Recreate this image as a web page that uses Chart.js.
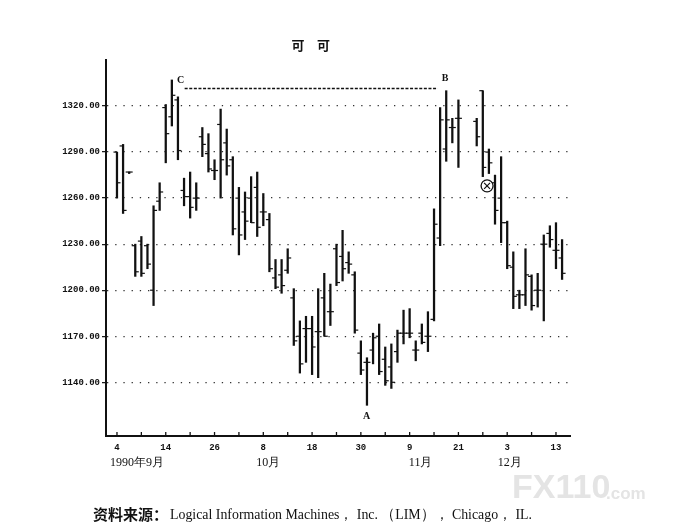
<!DOCTYPE html>
<html>
<head>
<meta charset="utf-8">
<title>可可</title>
<script src="https://cdn.jsdelivr.net/npm/chart.js"></script>
<style>
  body { margin: 0; background: #fff; }
</style>
</head>
<body>
<canvas id="cocoa" width="683" height="532"></canvas>
<script>
// trading day index from 4 Sep 1990 (days 57, 58 have no bar)
var days = [
  0, 1, 2, 3, 4, 5, 6, 7, 8, 9, 10, 11, 12, 13, 14, 15, 16, 17, 18, 19,
  20, 21, 22, 23, 24, 25, 26, 27, 28, 29, 30, 31, 32, 33, 34, 35, 36, 37, 38, 39,
  40, 41, 42, 43, 44, 45, 46, 47, 48, 49, 50, 51, 52, 53, 54, 55, 56,
  59, 60, 61, 62, 63, 64, 65, 66, 67, 68, 69, 70, 71, 72, 73
];
var highs = [
  1290, 1295, 1277, 1230, 1235, 1230, 1255, 1270, 1321, 1337, 1326, 1273, 1277, 1270, 1306, 1302, 1285, 1318, 1305, 1287,
  1267, 1264, 1274, 1277, 1263, 1250, 1220, 1220, 1227, 1201, 1180, 1183, 1183, 1201, 1211, 1204, 1230, 1239, 1225, 1212,
  1167, 1156, 1172, 1178, 1163, 1165, 1174, 1187, 1188, 1167, 1178, 1186, 1253, 1319, 1330, 1312, 1324,
  1312, 1330, 1292, 1275, 1287, 1245, 1225, 1200, 1227, 1210, 1211, 1236, 1242, 1244, 1233
];
var lows = [
  1260, 1250, 1276, 1209, 1209, 1214, 1190, 1252, 1283, 1307, 1285, 1255, 1247, 1252, 1287, 1277, 1272, 1260, 1275, 1236,
  1223, 1233, 1244, 1235, 1242, 1212, 1201, 1198, 1211, 1164, 1146, 1153, 1145, 1143, 1170, 1177, 1203, 1206, 1211, 1172,
  1145, 1125, 1152, 1145, 1138, 1136, 1153, 1165, 1169, 1154, 1165, 1160, 1180, 1229, 1284, 1296, 1280,
  1294, 1274, 1276, 1243, 1231, 1214, 1188, 1188, 1190, 1187, 1189, 1180, 1228, 1214, 1207
];
var opens = [
  1290, 1294, 1277, 1229, 1232, 1229, 1200, 1258, 1319, 1313, 1324, 1265, 1261, 1260, 1300, 1289, 1278, 1308, 1296, 1285,
  1260, 1251, 1260, 1267, 1251, 1246, 1208, 1210, 1213, 1195, 1170, 1175, 1175, 1173, 1195, 1186, 1227, 1222, 1218, 1210,
  1159, 1153, 1161, 1170, 1155, 1150, 1160, 1172, 1172, 1161, 1172, 1170, 1181, 1234, 1292, 1306, 1312,
  1310, 1330, 1290, 1270, 1260, 1244, 1215, 1197, 1197, 1209, 1200, 1230, 1237, 1226, 1221
];
var closes = [
  1270, 1252, 1277, 1212, 1211, 1217, 1252, 1264, 1302, 1327, 1291, 1261, 1254, 1260, 1295, 1279, 1278, 1285, 1281, 1240,
  1236, 1245, 1244, 1241, 1251, 1214, 1202, 1203, 1221, 1167, 1152, 1175, 1163, 1173, 1170, 1186, 1205, 1214, 1217, 1174,
  1148, 1153, 1169, 1147, 1141, 1140, 1172, 1172, 1172, 1161, 1166, 1170, 1243, 1311, 1311, 1306, 1312,
  1300, 1280, 1283, 1252, 1244, 1216, 1196, 1197, 1210, 1190, 1200, 1230, 1233, 1226, 1211
];

var yTicks = [1140, 1170, 1200, 1230, 1260, 1290, 1320];
var xTickDays = [0, 4, 8, 12, 16, 20, 24, 28, 32, 36, 40, 44, 48, 52, 56, 60, 64, 68, 72];
var xLabelDays = [0, 8, 16, 24, 32, 40, 48, 56, 64, 72];
var xLabels = ['4', '14', '26', '8', '18', '30', '9', '21', '3', '13'];
var monthLabels = ['1990年9月', '10月', '11月', '12月'];
var monthDays = [3.3, 24.8, 49.8, 64.4];

// C-B resistance line, A/B/C points and the circled cross
var lineDays = [11.1, 52.6];
var lineLevel = 1331.5;
var pointNames = ['C', 'B', 'A'];
var pointDays = [10.45, 53.8, 40.95];
var pointValues = [1337, 1338, 1118];
var crossDay = 60.7;
var crossValue = 1268;

var tickOffset = 0.28;

var ink = '#111';
var mono = '"Liberation Mono", "DejaVu Sans Mono", monospace';
var serif = '"Liberation Serif", "DejaVu Serif", serif';
var cjk = '"Noto Sans CJK SC", sans-serif';

var extras = {
  id: 'extras',
  afterDraw: function (chart) {
    var ctx = chart.ctx;
    var xs = chart.scales.x, ys = chart.scales.y;
    var area = chart.chartArea;
    ctx.save();

    // inward ticks on the date axis
    ctx.strokeStyle = ink;
    ctx.lineWidth = 1.3;
    xTickDays.forEach(function (d) {
      var px = xs.getPixelForValue(d);
      ctx.beginPath();
      ctx.moveTo(px, area.bottom);
      ctx.lineTo(px, area.bottom - 4);
      ctx.stroke();
    });

    ctx.fillStyle = ink;
    ctx.textAlign = 'center';
    ctx.textBaseline = 'middle';

    // month labels under the day labels
    ctx.font = '12px ' + serif;
    monthLabels.forEach(function (m, i) {
      ctx.fillText(m, xs.getPixelForValue(monthDays[i]), area.bottom + 27);
    });

    // A, B, C
    ctx.font = 'bold 10px ' + serif;
    pointNames.forEach(function (n, i) {
      ctx.fillText(n, xs.getPixelForValue(pointDays[i]), ys.getPixelForValue(pointValues[i]));
    });

    // title
    ctx.font = 'bold 13px ' + cjk;
    ctx.fillText('可', 298, 45);
    ctx.fillText('可', 323.5, 45);

    // watermark
    ctx.textAlign = 'left';
    ctx.fillStyle = '#e4e4e4';
    ctx.font = 'bold 34px "Liberation Sans", sans-serif';
    ctx.fillText('FX110', 512, 489);
    ctx.font = 'bold 17px "Liberation Sans", sans-serif';
    ctx.fillText('.com', 606, 494);

    // source line
    ctx.fillStyle = ink;
    ctx.font = 'bold 15px ' + cjk;
    ctx.fillText('资料来源：', 93, 514, 78);
    ctx.font = '15px ' + serif;
    ctx.fillText('Logical Information Machines， Inc. （LIM）， Chicago， IL.', 170, 515, 362);

    ctx.restore();
  }
};

var tickStyle = {
  type: 'line',
  showLine: false,
  pointStyle: 'line',
  pointRadius: 1.8,
  pointBorderWidth: 1.2,
  borderColor: ink,
  backgroundColor: ink
};

new Chart(document.getElementById('cocoa').getContext('2d'), {
  type: 'bar',
  data: {
    datasets: [
      {
        label: 'range',
        data: days.map(function (d, i) { return { x: d, y: [lows[i], highs[i]] }; }),
        backgroundColor: ink,
        borderWidth: 0,
        barThickness: 1.6,
        order: 2
      },
      Object.assign({
        label: 'open',
        data: days.map(function (d, i) { return { x: d - tickOffset, y: opens[i] }; }),
        order: 1
      }, tickStyle),
      Object.assign({
        label: 'close',
        data: days.map(function (d, i) { return { x: d + tickOffset, y: closes[i] }; }),
        order: 1
      }, tickStyle),
      {
        type: 'line',
        label: 'C-B',
        data: lineDays.map(function (d) { return { x: d, y: lineLevel }; }),
        borderColor: ink,
        borderWidth: 1.5,
        borderDash: [3, 1.6],
        pointRadius: 0,
        order: 0
      },
      {
        type: 'line',
        label: 'circle',
        showLine: false,
        data: [{ x: crossDay, y: crossValue }],
        pointStyle: 'circle',
        pointRadius: 6,
        pointBorderWidth: 1.3,
        borderColor: ink,
        backgroundColor: '#fff',
        order: 0
      },
      {
        type: 'line',
        label: 'cross',
        showLine: false,
        data: [{ x: crossDay, y: crossValue }],
        pointStyle: 'crossRot',
        pointRadius: 4.2,
        pointBorderWidth: 1.2,
        borderColor: ink,
        order: -1
      }
    ]
  },
  options: {
    responsive: false,
    animation: false,
    events: [],
    layout: { padding: { left: 0, top: 60, right: 113, bottom: 0 } },
    plugins: {
      legend: { display: false },
      tooltip: { enabled: false }
    },
    scales: {
      x: {
        type: 'linear',
        min: -1.8,
        max: 74.3,
        offset: false,
        afterBuildTicks: function (s) { s.ticks = xTickDays.map(function (v) { return { value: v }; }); },
        afterFit: function (s) { s.height = 96; },
        grid: { display: true, drawOnChartArea: false, drawTicks: false, offset: false },
        border: { display: true, color: ink, width: 2 },
        ticks: {
          autoSkip: false,
          maxRotation: 0,
          padding: 6,
          color: ink,
          font: { family: mono, size: 9, weight: 'bold' },
          callback: function (v) {
            var k = xLabelDays.indexOf(v);
            return k < 0 ? '' : xLabels[k];
          }
        }
      },
      y: {
        min: 1105,
        max: 1350,
        afterBuildTicks: function (s) { s.ticks = yTicks.map(function (v) { return { value: v }; }); },
        afterFit: function (s) { s.width = 106; },
        grid: {
          color: '#333',
          lineWidth: 1.3,
          tickLength: 4,
          tickColor: ink,
          tickWidth: 1.2,
          tickBorderDash: []
        },
        border: { display: true, color: ink, width: 2, dash: [1.3, 6.9] },
        ticks: {
          padding: 2,
          color: ink,
          font: { family: mono, size: 9, weight: 'bold' },
          callback: function (v) { return v.toFixed(2); }
        }
      }
    }
  },
  plugins: [extras]
});
</script>
</body>
</html>
